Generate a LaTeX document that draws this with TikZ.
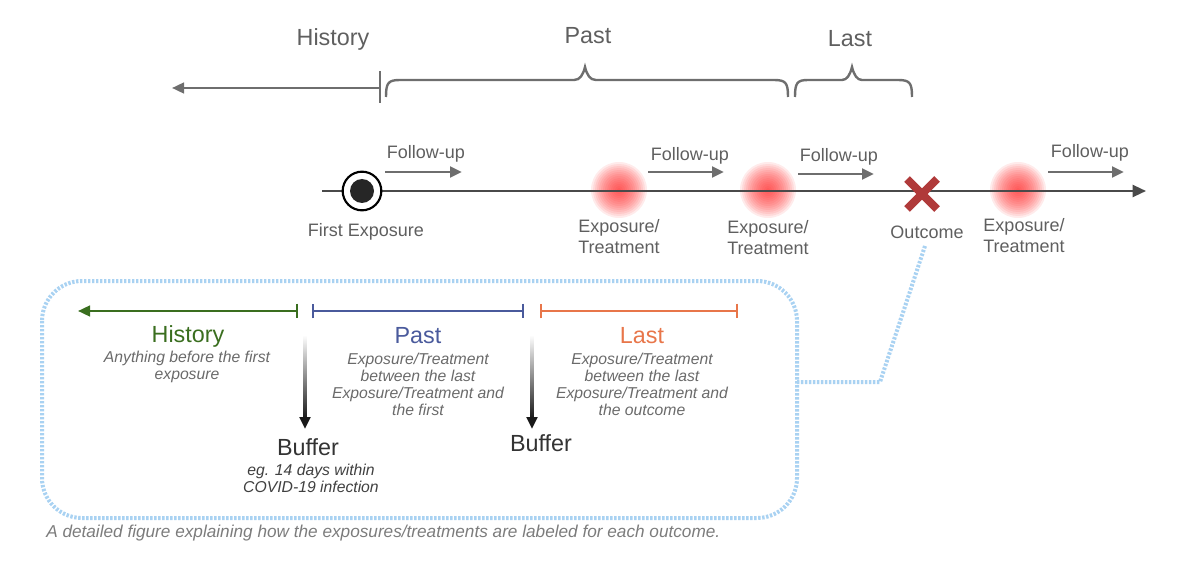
\documentclass[tikz,border=0pt]{standalone}
\usepackage{fontspec}
\setmainfont{Liberation Sans}
\usetikzlibrary{arrows.meta}
\definecolor{txtgray}{HTML}{5F5F5F}
\definecolor{linegray}{HTML}{4A4A4A}
\definecolor{arrgray}{HTML}{6E6E6E}
\definecolor{histgreen}{HTML}{3A6E1F}
\definecolor{pastblue}{HTML}{4A5A9C}
\definecolor{lastorange}{HTML}{E8764A}
\definecolor{xred}{HTML}{B03A3A}
\definecolor{glowred}{HTML}{FF2020}
\definecolor{dotblue}{HTML}{A9D2F2}
\definecolor{itgray}{HTML}{6A6A6A}
\begin{document}
\begin{tikzpicture}[x=0.75pt,y=-0.75pt,
  bigtxt/.style={inner sep=0pt, text=txtgray, font=\fontsize{17.5}{21}\selectfont},
  midtxt/.style={inner sep=0pt, text=txtgray, font=\fontsize{13.5}{15.75}\selectfont, align=center},
  ittxt/.style={inner sep=0pt, text=itgray, font=\fontsize{11.8}{12.8}\selectfont\itshape, align=center},
  followarr/.style={draw=arrgray, line width=2.2pt, -{Triangle[length=9pt,width=8pt]}},
  timeline/.style={draw=linegray, line width=1.6pt, -{Triangle[length=10pt,width=9pt]}},
  bracestyle/.style={draw=arrgray, line width=1.8pt},
  rangeline/.style={line width=1.8pt},
  dotline/.style={draw=dotblue, line width=3pt, dash pattern=on 1.8pt off 1.2pt},
  glow/.style={fill=glowred, opacity=0.09},
]
\useasboundingbox (0,0) rectangle (1193,574);

% ---------- top labels ----------
\node[bigtxt] (tHist) at (333,39) {History};
\node[bigtxt] (tPast) at (588,36) {Past};
\node[bigtxt] (tLast) at (850,39) {Last};

% history arrow with bar
\coordinate (hbar) at (380,88);
\coordinate (hend) at (172,88);
\coordinate (hbarT) at (380,71);
\coordinate (hbarB) at (380,103);
\draw[draw=arrgray, line width=1.8pt, -{Triangle[length=9pt,width=8pt]}] (hbar) -- (hend);
\draw[draw=arrgray, line width=1.8pt] (hbarT) -- (hbarB);

% braces
\draw[bracestyle] (386,97) .. controls (386,83) and (388,80) .. (400,80) -- (574,80)
  .. controls (580,80) and (583,75) .. (585,67) .. controls (587,75) and (590,80) .. (596,80)
  -- (774,80) .. controls (786,80) and (788,83) .. (788,97);
\draw[bracestyle] (795,97) .. controls (795,83) and (797,80) .. (808,80) -- (842,80)
  .. controls (847,80) and (850,75) .. (852,67) .. controls (854,75) and (857,80) .. (862,80)
  -- (898,80) .. controls (910,80) and (912,83) .. (912,97);

% ---------- glows ----------
\coordinate (g1) at (619,190);
\coordinate (g2) at (768,190);
\coordinate (g3) at (1018,190);
\foreach \g in {g1,g2,g3}{
  \foreach \r in {28,26,...,2}{ \fill[glow] (\g) circle (\r); }
}

% ---------- main timeline ----------
\coordinate (tlstart) at (322,191);
\coordinate (tlend) at (1146,191);
\draw[timeline] (tlstart) -- (tlend);

% first exposure
\node[circle, draw=black, line width=1.6pt, fill=white, minimum size=29pt, inner sep=0pt] (first) at (362,191) {};
\node[circle, fill=black!85, minimum size=18pt, inner sep=0pt] (firstIn) at (first.center) {};
\node[midtxt] (firstLab) at (366,232) {First Exposure};

% follow-up arrows
\coordinate (f1a) at (385,172); \coordinate (f1b) at (462,172);
\coordinate (f2a) at (648,172); \coordinate (f2b) at (724,172);
\coordinate (f3a) at (798,174); \coordinate (f3b) at (874,174);
\coordinate (f4a) at (1048,172); \coordinate (f4b) at (1124,172);
\draw[followarr] (f1a) -- (f1b);
\draw[followarr] (f2a) -- (f2b);
\draw[followarr] (f3a) -- (f3b);
\draw[followarr] (f4a) -- (f4b);
\node[midtxt] (fl1) at (426,154) {Follow-up};
\node[midtxt] (fl2) at (690,156) {Follow-up};
\node[midtxt] (fl3) at (839,157) {Follow-up};
\node[midtxt] (fl4) at (1090,153) {Follow-up};

% exposure labels
\node[midtxt] (e1) at (619,237) {Exposure/\\Treatment};
\node[midtxt] (e2) at (768,238) {Exposure/\\Treatment};
\node[midtxt] (e3) at (1024,236) {Exposure/\\Treatment};

% outcome X
\coordinate (xc) at (922,194);
\draw[xred, line width=6pt] (907,179) -- (937,209);
\draw[xred, line width=6pt] (937,179) -- (907,209);
\node[midtxt] (outLab) at (927,232) {Outcome};

% ---------- dotted box + connector ----------
\draw[dotline, rounded corners=30pt] (42,281) rectangle (797,518);
\coordinate (cA) at (925,246);
\coordinate (cB) at (880,382);
\coordinate (cC) at (797,382);
\draw[dotline] (cA) -- (cB) -- (cC);

% ---------- range lines ----------
\coordinate (gA) at (298,311); \coordinate (gB) at (78,311);
\draw[rangeline, histgreen, {Bar[width=11pt]}-{Triangle[length=9pt,width=8pt]}] (gA) -- (gB);
\coordinate (pA) at (312,311); \coordinate (pB) at (524,311);
\draw[rangeline, pastblue, {Bar[width=11pt]}-{Bar[width=11pt]}] (pA) -- (pB);
\coordinate (lA) at (540,311); \coordinate (lB) at (738,311);
\draw[rangeline, lastorange, {Bar[width=11pt]}-{Bar[width=11pt]}] (lA) -- (lB);

\node[inner sep=0pt, text=histgreen, font=\fontsize{17.5}{21}\selectfont] (bHist) at (188,336) {History};
\node[inner sep=0pt, text=pastblue, font=\fontsize{17.5}{21}\selectfont] (bPast) at (418,336) {Past};
\node[inner sep=0pt, text=lastorange, font=\fontsize{17.5}{21}\selectfont] (bLast) at (642,336) {Last};

\node[ittxt] (dHist) at (187,367) {Anything before the first\\exposure};
\node[ittxt] (dPast) at (418,384) {Exposure/Treatment\\between the last\\Exposure/Treatment and\\the first};
\node[ittxt] (dLast) at (642,384) {Exposure/Treatment\\between the last\\Exposure/Treatment and\\the outcome};

% ---------- buffer arrows ----------
\shade[top color=white, bottom color=black!90] (303.4,335) rectangle (306.6,418);
\coordinate (b1a) at (305,417); \coordinate (b1b) at (305,429);
\draw[black!90, line width=2.4pt, -{Triangle[length=9pt,width=8pt]}] (b1a) -- (b1b);
\shade[top color=white, bottom color=black!90] (530.4,335) rectangle (533.6,418);
\coordinate (b2a) at (532,417); \coordinate (b2b) at (532,429);
\draw[black!90, line width=2.4pt, -{Triangle[length=9pt,width=8pt]}] (b2a) -- (b2b);

\node[inner sep=0pt, text=black!80, font=\fontsize{17.5}{21}\selectfont] (buf1) at (308,447) {Buffer};
\node[inner sep=0pt, text=black!80, font=\fontsize{17.5}{21}\selectfont] (buf2) at (541,443) {Buffer};
\node[ittxt, text=black!75] (bufd) at (311,478) {eg. 14 days within\\COVID-19 infection};

% caption
\node[inner sep=0pt, anchor=west, text=arrgray!90, font=\fontsize{12.9}{15}\selectfont\itshape] (cap) at (46,533) {A detailed figure explaining how the exposures/treatments are labeled for each outcome.};
\end{tikzpicture}
\end{document}
